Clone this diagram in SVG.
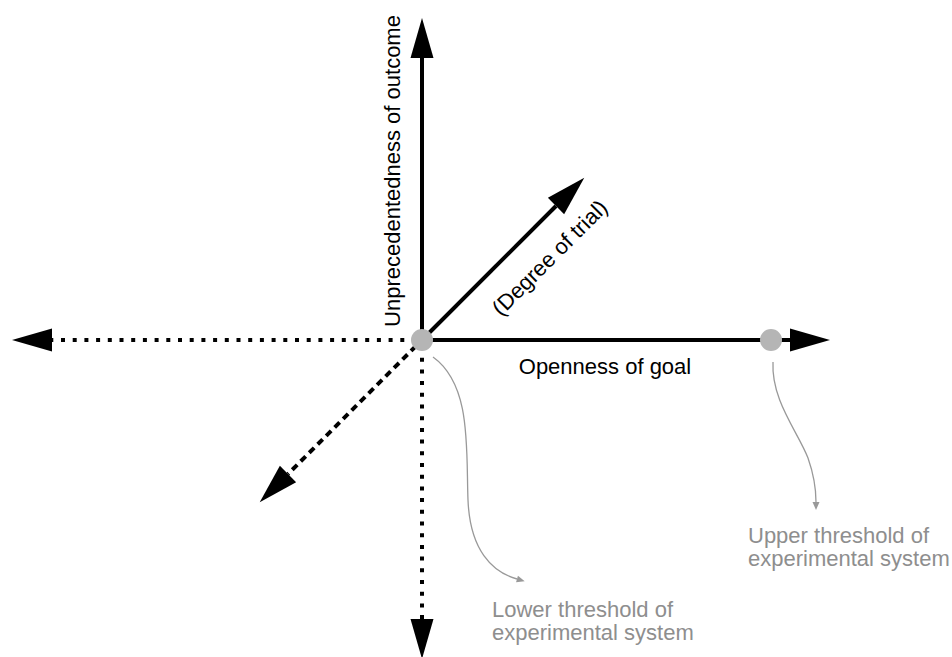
<svg xmlns="http://www.w3.org/2000/svg" width="952" height="657" viewBox="0 0 952 657">
  <style>
    .axis { stroke: #000; stroke-width: 4; fill: none; stroke-linecap: butt; }
    .dotted { stroke-dasharray: 4 7.7; }
    .dashed { stroke-dasharray: 7 5; }
    .lbl { font-family: "Liberation Sans", Arial, Helvetica, sans-serif; font-size: 22px; fill: #000; }
    .note { font-family: "Liberation Sans", Arial, Helvetica, sans-serif; font-size: 22px; fill: #8e8e8e; }
    .conn { stroke: #999; stroke-width: 1.3; fill: none; }
    .dot { fill: #b5b5b5; }
  </style>
  <defs>
    <marker id="big" markerUnits="userSpaceOnUse" markerWidth="42" markerHeight="24" refX="0" refY="11.5" orient="auto" overflow="visible">
      <path d="M0,0 L40,11.5 L0,23 Z" fill="#000"/>
    </marker>
    <marker id="small" markerUnits="userSpaceOnUse" markerWidth="10" markerHeight="8" refX="0" refY="3.5" orient="auto" overflow="visible">
      <path d="M0,0 L8,3.5 L0,7 Z" fill="#999"/>
    </marker>
  </defs>

  <g id="connectors">
    <line class="axis" x1="422" y1="340" x2="422" y2="58" marker-end="url(#big)"/>
    <line class="axis" x1="422" y1="340" x2="790" y2="340" marker-end="url(#big)"/>
    <line class="axis" x1="422" y1="340" x2="556" y2="206" marker-end="url(#big)"/>
    <line class="axis dotted" x1="416" y1="340" x2="52" y2="340" marker-end="url(#big)"/>
    <line class="axis dotted" x1="422" y1="346" x2="422" y2="619" marker-end="url(#big)"/>
    <line class="axis dashed" x1="416" y1="346" x2="288" y2="474" marker-end="url(#big)"/>
    <path class="conn" d="M433,357 C472,385 466,450 468,500 C470,550 492,572 517,579" marker-end="url(#small)"/>
    <path class="conn" d="M773,362 C771,400 798,432 808,458 C815,478 816,492 816,502" marker-end="url(#small)"/>
  </g>

  <g id="origin">
    <circle class="dot" cx="422" cy="340" r="11"/>
  </g>
  <g id="upper-point">
    <circle class="dot" cx="771" cy="340" r="11"/>
  </g>

  <g id="label-outcome">
    <text class="lbl" text-anchor="middle" transform="translate(400,171) rotate(-90)">Unprecedentedness of outcome</text>
  </g>
  <g id="label-trial">
    <text class="lbl" text-anchor="middle" transform="translate(555,263) rotate(-45)">(Degree of trial)</text>
  </g>
  <g id="label-goal">
    <text class="lbl" x="605" y="374" text-anchor="middle">Openness of goal</text>
  </g>
  <g id="label-lower">
    <text class="note" x="492" y="617">Lower threshold of</text>
    <text class="note" x="492" y="640">experimental system</text>
  </g>
  <g id="label-upper">
    <text class="note" x="748" y="543">Upper threshold of</text>
    <text class="note" x="748" y="566">experimental system</text>
  </g>
</svg>
